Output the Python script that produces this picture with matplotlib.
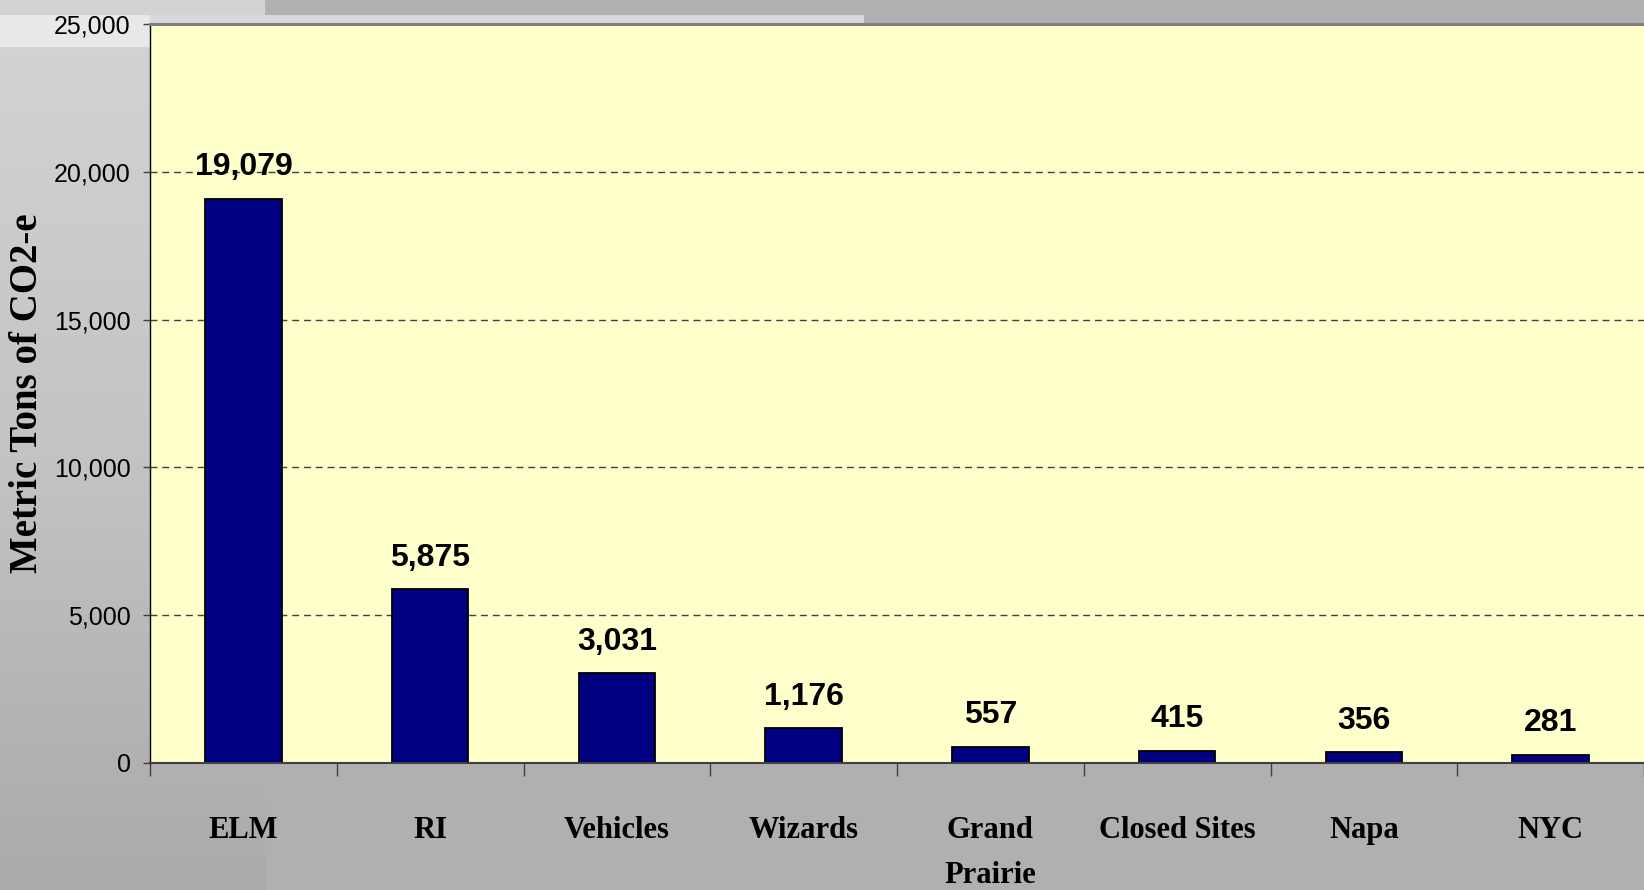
import numpy as np
import matplotlib
matplotlib.use("Agg")
import matplotlib.pyplot as plt
from matplotlib.patches import Rectangle
from matplotlib.colors import LinearSegmentedColormap
from matplotlib.ticker import FuncFormatter

categories = ["ELM", "RI", "Vehicles", "Wizards", "Grand\nPrairie", "Closed Sites", "Napa", "NYC"]
values = [19079, 5875, 3031, 1176, 557, 415, 356, 281]
yticks = [0, 5000, 10000, 15000, 20000, 25000]

W, H = 1644, 890
fig = plt.figure(figsize=(W / 100, H / 100), dpi=100)
fig.patch.set_facecolor("#b0b0b0")

# slide background bits
bg = fig.add_axes([0, 0, 1, 1], zorder=-5)
bg.set_xlim(0, W)
bg.set_ylim(H, 0)
bg.axis("off")
grad = np.linspace(0, 1, 256).reshape(-1, 1)
cmap_bg = LinearSegmentedColormap.from_list("bg", ["#d4d4d4", "#c4c4c4", "#aaaaaa"])
bg.imshow(grad, cmap=cmap_bg, extent=(0, 264, H, 0), aspect="auto")
bg.add_patch(Rectangle((0, 15), 150, 32, facecolor="#e8e8e8", edgecolor="none"))
bg.add_patch(Rectangle((150, 15), 714, 9, facecolor="#d8d8d8", edgecolor="none"))

ax = fig.add_axes([150 / W, 1 - 763 / H, 1 - 150 / W, (763 - 24) / H])
ax.set_facecolor("#ffffcc")

x = np.arange(len(categories))
bars = ax.bar(x, values, width=0.41, color="#000080", edgecolor="black", linewidth=1.3, zorder=3)

ax.set_xlim(-0.5, len(categories) - 0.5)
ax.set_ylim(0, 25000)
ax.set_yticks(yticks)
ax.yaxis.set_major_formatter(FuncFormatter(lambda v, p: f"{int(v):,}"))
ax.grid(axis="y", color="#404040", linestyle=(0, (5, 3.5)), linewidth=1.0, zorder=1)

num_font = ["Liberation Sans", "DejaVu Sans"]
for lbl in ax.get_yticklabels():
    lbl.set_family(num_font)
    lbl.set_fontsize(18)
ax.tick_params(axis="y", length=5, width=1, pad=9, color="#404040")

ax.set_xticks(x)
ax.set_xticklabels(categories, family=["Liberation Serif", "DejaVu Serif"], fontweight="bold",
                   fontsize=22, linespacing=1.75, va="top")
ax.tick_params(axis="x", which="major", length=0, pad=38)
ax.set_xticks(np.arange(-0.5, len(categories), 1.0), minor=True)
ax.tick_params(axis="x", which="minor", length=9, width=1, color="#404040")

for rect, v in zip(bars, values):
    ax.annotate(f"{v:,}", (rect.get_x() + rect.get_width() / 2, v), xytext=(0, 12),
                textcoords="offset points", ha="center", va="bottom",
                family=num_font, fontweight="bold", fontsize=23, zorder=4)

fig.text(28 / W, 1 - 393 / H, "Metric Tons of CO2-e", rotation=90, ha="center", va="center",
         family=["Liberation Serif", "DejaVu Serif"], fontweight="bold", fontsize=28)

ax.spines["top"].set_color("#808080")
ax.spines["top"].set_linewidth(2.2)
ax.spines["right"].set_visible(False)
ax.spines["left"].set_color("black")
ax.spines["left"].set_linewidth(1.0)
ax.spines["bottom"].set_color("#404040")
ax.spines["bottom"].set_linewidth(1.5)
ax.spines["bottom"].set_zorder(5)

fig.savefig("out.png", dpi=100, facecolor=fig.get_facecolor())
